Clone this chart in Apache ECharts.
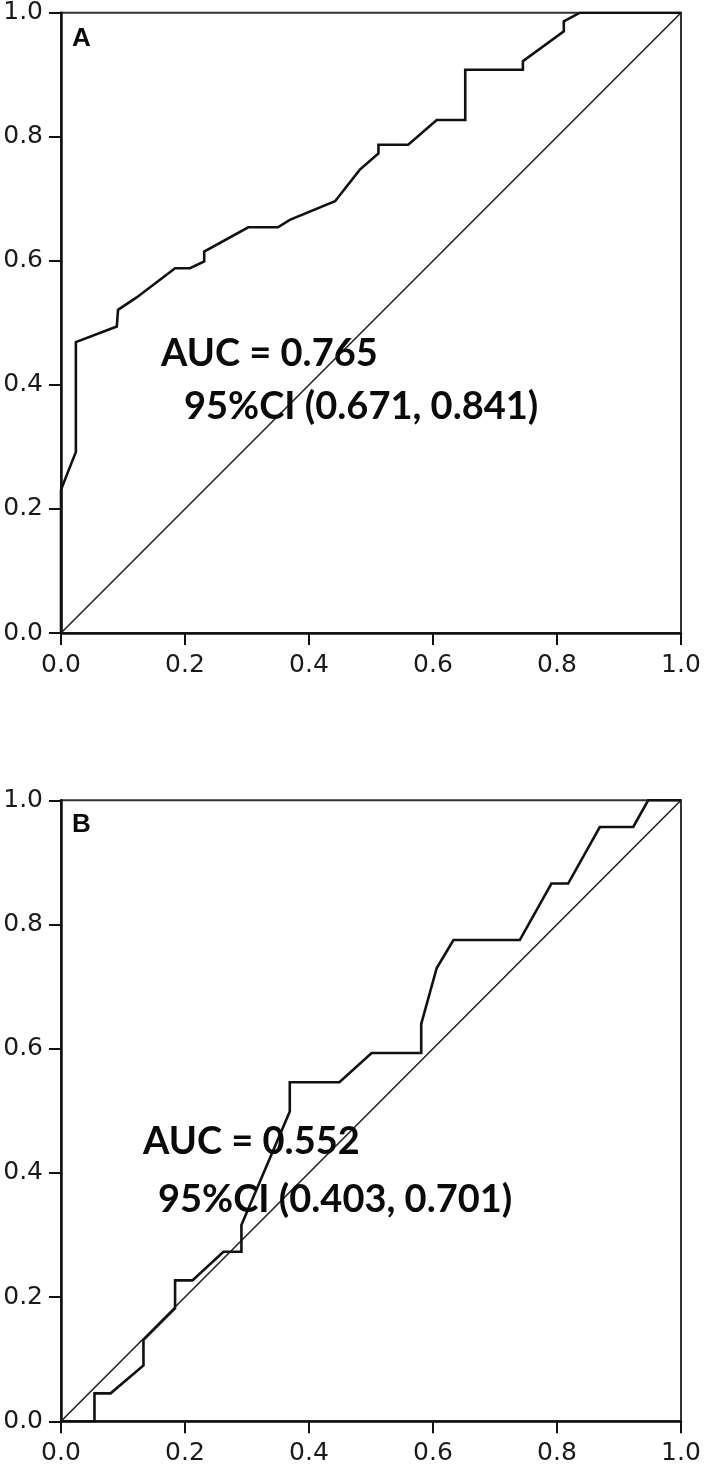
<!DOCTYPE html>
<html>
<head>
<meta charset="utf-8">
<script src="https://cdn.jsdelivr.net/npm/echarts@6/dist/echarts.min.js"></script>
<style>
  html, body { margin: 0; padding: 0; background: #fff; }
  #chart { width: 709px; height: 1469px; }
</style>
</head>
<body>
<div id="chart"></div>
<script>
// ---- data ----
const tickValues = [0, 0.2, 0.4, 0.6, 0.8, 1.0];
const panelLabels = ['A', 'B'];
const aucLinesA = ['AUC = 0.765', '95%CI (0.671, 0.841)'];
const aucLinesB = ['AUC = 0.552', '95%CI (0.403, 0.701)'];

// ROC curve A: [1 - specificity, sensitivity]
const rocA_x = [0, 0, 0.024, 0.024, 0.090, 0.092, 0.122, 0.184, 0.208, 0.231, 0.231, 0.302, 0.350, 0.369, 0.442, 0.482, 0.512, 0.512, 0.560, 0.606, 0.652, 0.652, 0.745, 0.745, 0.811, 0.811, 0.837, 1.0];
const rocA_y = [0, 0.231, 0.292, 0.469, 0.494, 0.521, 0.541, 0.588, 0.588, 0.599, 0.615, 0.654, 0.654, 0.666, 0.696, 0.747, 0.773, 0.787, 0.787, 0.827, 0.827, 0.908, 0.908, 0.922, 0.970, 0.986, 1.0, 1.0];

// ROC curve B
const rocB_x = [0, 0.054, 0.054, 0.080, 0.133, 0.133, 0.184, 0.184, 0.212, 0.262, 0.291, 0.291, 0.369, 0.369, 0.449, 0.501, 0.581, 0.581, 0.606, 0.633, 0.740, 0.791, 0.818, 0.869, 0.923, 0.947, 1.0];
const rocB_y = [0, 0, 0.045, 0.045, 0.090, 0.131, 0.182, 0.227, 0.227, 0.273, 0.273, 0.316, 0.499, 0.546, 0.546, 0.593, 0.593, 0.640, 0.730, 0.775, 0.775, 0.866, 0.866, 0.957, 0.957, 1.0, 1.0];

// reference diagonal
const diag_x = [0, 1];
const diag_y = [0, 1];

const zip = (xs, ys) => xs.map((x, i) => [x, ys[i]]);

// ---- layout ----
const grids = [
  { left: 61, top: 12.7, width: 620, height: 620.3 },
  { left: 61, top: 800.3, width: 620, height: 621 }
];

const axisFont = 'DejaVu Sans';
function xAxisFor(i) {
  return {
    type: 'value', gridIndex: i, min: 0, max: 1, interval: 0.2,
    axisLine: { show: true, onZero: false, lineStyle: { color: '#111', width: 2.5 } },
    axisTick: { show: true, inside: false, length: 12, lineStyle: { color: '#111', width: 2 } },
    axisLabel: { show: true, margin: 20, fontFamily: axisFont, fontSize: 25, color: '#1a1a1a',
      formatter: v => v.toFixed(1) },
    splitLine: { show: false }
  };
}
function yAxisFor(i) {
  return {
    type: 'value', gridIndex: i, min: 0, max: 1, interval: 0.2,
    axisLine: { show: true, onZero: false, lineStyle: { color: '#111', width: 2.5 } },
    axisTick: { show: true, inside: false, length: 12, lineStyle: { color: '#111', width: 2 } },
    axisLabel: { show: true, margin: 18, fontFamily: axisFont, fontSize: 25, color: '#1a1a1a',
      formatter: v => v.toFixed(1) },
    splitLine: { show: false }
  };
}

const curves = [zip(rocA_x, rocA_y), zip(rocB_x, rocB_y)];
const series = [];
[0, 1].forEach(i => {
  series.push({
    type: 'line', xAxisIndex: i, yAxisIndex: i, data: zip(diag_x, diag_y),
    symbol: 'none', silent: true, z: 2,
    lineStyle: { color: '#222', width: 1.6 }
  });
  series.push({
    type: 'line', xAxisIndex: i, yAxisIndex: i, data: curves[i],
    symbol: 'none', silent: true, z: 3,
    lineStyle: { color: '#111', width: 2.6, join: 'miter' }
  });
});

const labelFont = 'Lato';
function textEl(x, y, text, size, family, weight) {
  return {
    type: 'text', x: x, y: y, z: 10,
    style: { text: text, fontSize: size, fontFamily: family, fontWeight: weight,
      fill: '#0a0a0a', textAlign: 'left', textVerticalAlign: 'middle' }
  };
}

const graphics = [
  textEl(72, 39, panelLabels[0], 26, 'Liberation Sans', 'bold'),
  textEl(72, 825, panelLabels[1], 26, 'Liberation Sans', 'bold'),
  textEl(161, 354, aucLinesA[0], 38, labelFont, 'bold'),
  textEl(184, 407, aucLinesA[1], 38, labelFont, 'bold'),
  textEl(143, 1142, aucLinesB[0], 38, labelFont, 'bold'),
  textEl(158, 1200, aucLinesB[1], 38, labelFont, 'bold')
];

const chart = echarts.init(document.getElementById('chart'), null, { renderer: 'canvas' });
chart.setOption({
  backgroundColor: '#ffffff',
  animation: false,
  grid: grids.map(g => Object.assign({ show: true, borderColor: '#333', borderWidth: 2, backgroundColor: 'transparent' }, g)),
  xAxis: [xAxisFor(0), xAxisFor(1)],
  yAxis: [yAxisFor(0), yAxisFor(1)],
  series: series,
  graphic: graphics
});
</script>
</body>
</html>
